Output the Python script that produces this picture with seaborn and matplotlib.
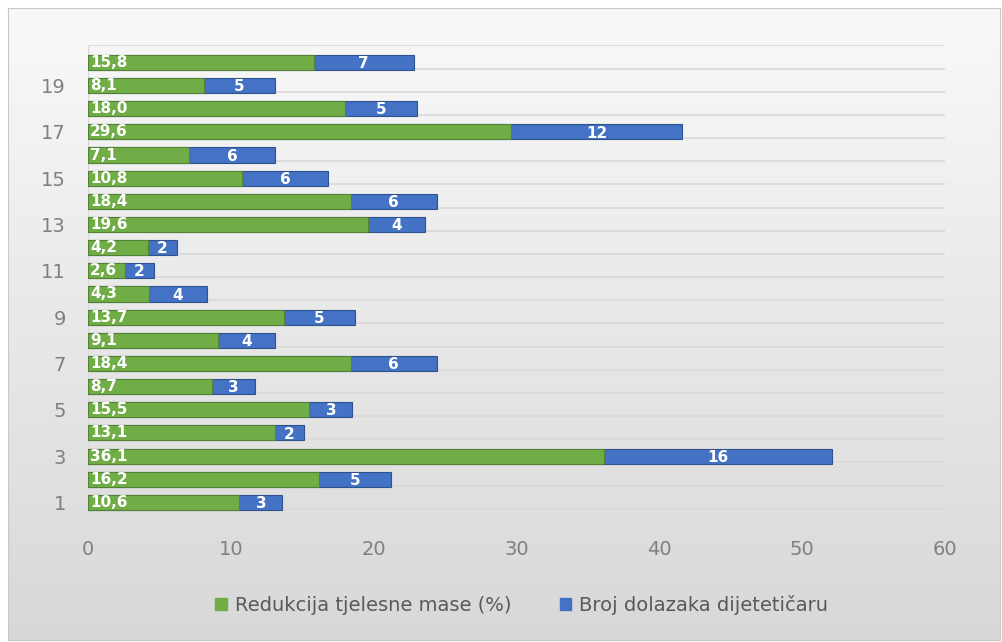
import numpy as np
import pandas as pd
import matplotlib
matplotlib.use('Agg')
from matplotlib import pyplot as plt
from matplotlib.colors import LinearSegmentedColormap
from matplotlib.patches import Patch
import seaborn as sns

# values, row 1 is the bottom bar
rows = list(range(1, 21))
redukcija = [10.6, 16.2, 36.1, 13.1, 15.5, 8.7, 18.4, 9.1, 13.7, 4.3,
             2.6, 4.2, 19.6, 18.4, 10.8, 7.1, 29.6, 18.0, 8.1, 15.8]
dolasci = [3, 5, 16, 2, 3, 3, 6, 4, 5, 4,
           2, 2, 4, 6, 6, 6, 12, 5, 5, 7]
x_ticks = [0, 10, 20, 30, 40, 50, 60]
y_ticks = [1, 3, 5, 7, 9, 11, 13, 15, 17, 19]
legend_labels = ['Redukcija tjelesne mase (%)', 'Broj dolazaka dijetetičaru']

green = '#70ad47'
blue = '#4472c4'

df = pd.DataFrame({'row': rows, 'redukcija': redukcija, 'dolasci': dolasci})
df['ukupno'] = df['redukcija'] + df['dolasci']

sns.set_style('white')
plt.rcParams['font.family'] = ['DejaVu Sans']

fig = plt.figure(figsize=(10.03, 6.42), dpi=100)
fig.patch.set_facecolor('white')

# grey gradient chart area
bg = fig.add_axes([8 / 1003, 2 / 642, 992 / 1003, 632 / 642], zorder=-1)
cmap = LinearSegmentedColormap.from_list('bg', ['#f9f9f9', '#d8d8d8'])
bg.imshow(np.linspace(0, 1, 256).reshape(-1, 1), aspect='auto', cmap=cmap,
          extent=[0, 1, 0, 1], origin='upper')
bg.set_xticks([])
bg.set_yticks([])
for s in bg.spines.values():
    s.set_color('#c8c8c8')

ax = fig.add_axes([88 / 1003, 1 - 514 / 642, 857 / 1003, 469 / 642])
ax.patch.set_alpha(0)

# stacked: total in blue first, green on top of it
sns.barplot(data=df, x='ukupno', y='row', orient='h', native_scale=True,
            color=blue, saturation=1, width=0.65, errorbar=None,
            edgecolor='#2f528f', linewidth=0.8, ax=ax)
sns.barplot(data=df, x='redukcija', y='row', orient='h', native_scale=True,
            color=green, saturation=1, width=0.65, errorbar=None,
            edgecolor='#548235', linewidth=0.8, ax=ax)

for k in range(1, 22):
    ax.axhline(k - 0.27, color='#dadada', lw=1.3, zorder=0)
ax.axvline(0, color='#dadada', lw=1, zorder=0)

for r, g, b in zip(rows, redukcija, dolasci):
    ax.text(0.15, r, f'{g:.1f}'.replace('.', ','), ha='left', va='center',
            color='white', fontweight='bold', fontsize=11)
    ax.text(g + b / 2, r - 0.05, str(b), ha='center', va='center',
            color='white', fontweight='bold', fontsize=11)

ax.set_xlim(0, 60)
ax.set_ylim(0.5, 20.75)
ax.set_xticks(x_ticks)
ax.set_yticks(y_ticks)
ax.set_xlabel('')
ax.set_ylabel('')
ax.tick_params(axis='both', length=0, labelsize=14, colors='#808080')
ax.tick_params(axis='x', pad=19)
ax.tick_params(axis='y', pad=16)
sns.despine(ax=ax, left=True, bottom=True)

handles = [Patch(color=green), Patch(color=blue)]
fig.legend(handles, legend_labels, loc='center', bbox_to_anchor=(0.52, 1 - 605 / 642),
           ncol=2, frameon=False, fontsize=14, handlelength=0.6, handleheight=0.6,
           handletextpad=0.4, columnspacing=2.5, labelcolor='#595959')

fig.savefig('out.png', dpi=100)
